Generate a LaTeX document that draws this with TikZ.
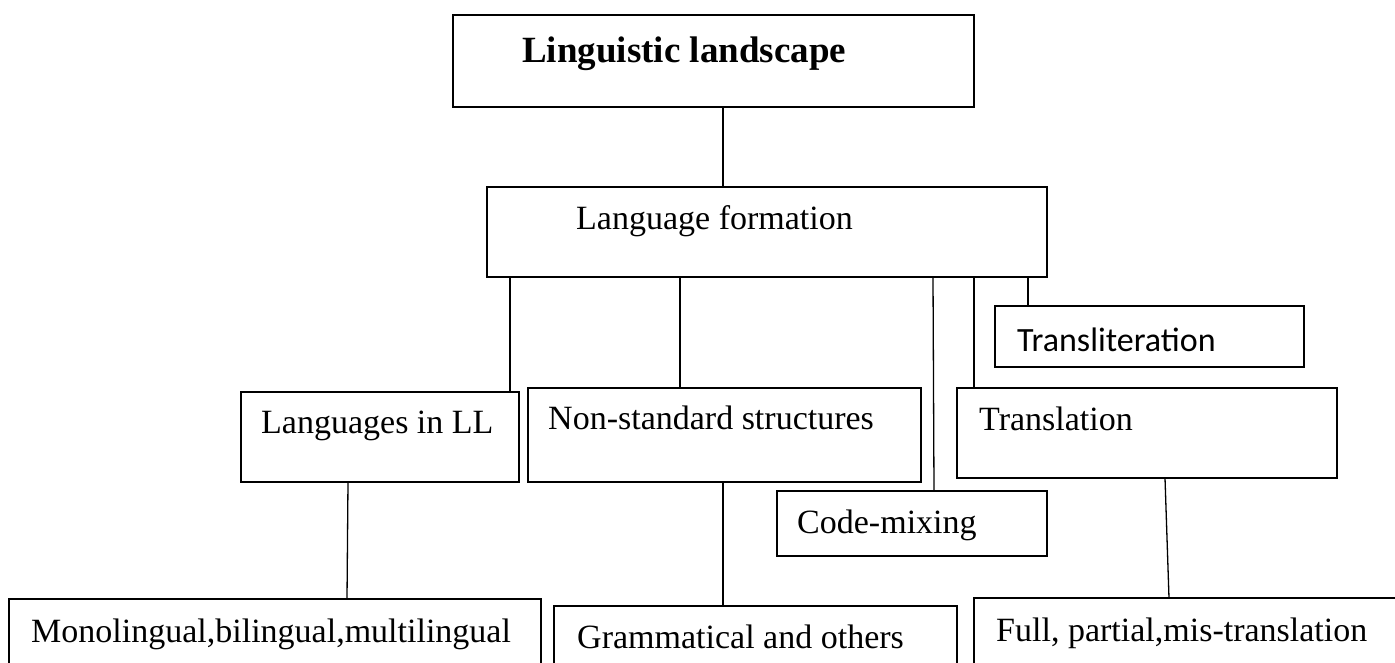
\documentclass[tikz,border=0pt]{standalone}
\usepackage{fontspec}
\setmainfont{Liberation Serif}
\newfontfamily\calfont{Carlito}
\begin{document}
\begin{tikzpicture}[x=1pt, y=-1pt,
    box/.style={draw, rectangle, line width=1.8pt, inner sep=0pt, outer sep=0pt, anchor=north west},
    txt/.style={anchor=base west, inner sep=0pt, font=\fontsize{34}{40}\selectfont},
    link/.style={line width=1.3pt}]
    \useasboundingbox (0,0) rectangle (1395,662);
    \clip (0,0) rectangle (1395,662);

    % 顶层
    \node[box, minimum width=521, minimum height=92] (ll) at (453,15) {};
    \node[txt, font=\fontsize{37}{44}\selectfont\bfseries] (lltext) at ([xshift=69pt,yshift=-47pt]ll.north west) {Linguistic landscape};

    % 第二层
    \node[box, minimum width=560, minimum height=90] (lf) at (487,187) {};
    \node[txt] (lftext) at ([xshift=89pt,yshift=-42pt]lf.north west) {Language formation};

    % 第三层
    \node[box, minimum width=309, minimum height=61] (translit) at (995,306) {};
    \node[txt, font=\fontsize{34}{40}\selectfont\calfont] (translittext) at ([xshift=22pt,yshift=-45pt]translit.north west) {Transliteration};
    \node[box, minimum width=278, minimum height=90] (langs) at (241,392) {};
    \node[txt] (langstext) at ([xshift=20pt,yshift=-41pt]langs.north west) {Languages in LL};
    \node[box, minimum width=393, minimum height=94] (nonstd) at (528,388) {};
    \node[txt] (nonstdtext) at ([xshift=20pt,yshift=-41pt]nonstd.north west) {Non-standard structures};
    \node[box, minimum width=380, minimum height=90] (transl) at (957,388) {};
    \node[txt] (transltext) at ([xshift=22pt,yshift=-42pt]transl.north west) {Translation};
    \node[box, minimum width=270, minimum height=65] (codemix) at (777,491) {};
    \node[txt] (codemixtext) at ([xshift=20pt,yshift=-42pt]codemix.north west) {Code-mixing};

    % 底层
    \node[box, minimum width=532, minimum height=80] (mono) at (9,599) {};
    \node[txt] (monotext) at ([xshift=22pt,yshift=-43pt]mono.north west) {Monolingual,bilingual,multilingual};
    \node[box, minimum width=403, minimum height=80] (gram) at (554,606) {};
    \node[txt] (gramtext) at ([xshift=23pt,yshift=-42pt]gram.north west) {Grammatical and others};
    \node[box, minimum width=446, minimum height=80] (full) at (974,598) {};
    \node[txt] (fulltext) at ([xshift=22pt,yshift=-43pt]full.north west) {Full, partial,mis-translation};

    % 连接线
    \draw[link] ([xshift=270pt]ll.south west) -- ([xshift=236pt]lf.north west);
    \draw[link] ([xshift=23pt]lf.south west) -- ([xshift=269pt]langs.north west);
    \draw[link] ([xshift=193pt]lf.south west) -- ([xshift=152pt]nonstd.north west);
    \draw[link] ([xshift=446pt]lf.south west) -- ([xshift=157pt]codemix.north west);
    \draw[link] ([xshift=487pt]lf.south west) -- ([xshift=17pt]transl.north west);
    \draw[link] ([xshift=541pt]lf.south west) -- ([xshift=33pt]translit.north west);
    \draw[link] ([xshift=107pt]langs.south west) -- ([xshift=338pt]mono.north west);
    \draw[link] ([xshift=195pt]nonstd.south west) -- ([xshift=169pt]gram.north west);
    \draw[link] ([xshift=208pt]transl.south west) -- ([xshift=195pt]full.north west);
\end{tikzpicture}
\end{document}
